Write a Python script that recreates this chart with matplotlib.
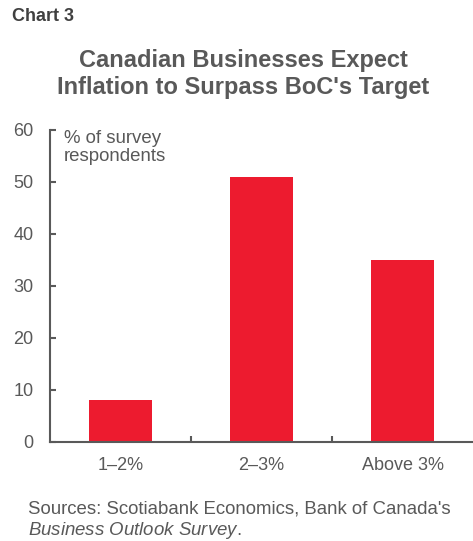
import matplotlib.pyplot as plt
from matplotlib.ticker import FixedLocator

plt.rcParams['font.family'] = ['Liberation Sans', 'DejaVu Sans']
plt.rcParams['mathtext.fontset'] = 'custom'
plt.rcParams['mathtext.rm'] = 'Liberation Sans'
plt.rcParams['mathtext.it'] = 'Liberation Sans:italic'

categories = ["1–2%", "2–3%", "Above 3%"]
values = [8, 51, 35]

gray = "#595959"
red = "#ED1B2F"

fig = plt.figure(figsize=(4.73, 5.41), dpi=100)
ax = fig.add_axes([50 / 473, 99 / 541, 423 / 473, 312 / 541])

x = list(range(len(categories)))
ax.bar(x, values, width=0.45, color=red, zorder=2)

ax.set_xlim(-0.5, 2.5)
ax.set_ylim(0, 60)
ax.set_yticks(range(0, 61, 10))
ax.set_xticks(x)
ax.set_xticklabels(categories)
ax.xaxis.set_minor_locator(FixedLocator([0.5, 1.5]))

for side in ["top", "right"]:
    ax.spines[side].set_visible(False)
for side in ["left", "bottom"]:
    ax.spines[side].set_color(gray)
    ax.spines[side].set_linewidth(1.5)

ax.tick_params(axis="y", direction="in", length=4, width=1.5, color=gray,
               labelsize=13, labelcolor=gray, pad=12)
ax.tick_params(axis="x", which="major", length=0, labelsize=13,
               labelcolor=gray, pad=11)
ax.tick_params(axis="x", which="minor", direction="in", length=4,
               width=1.5, color=gray)

ax.text(0.033, 1.0, "% of survey\nrespondents", transform=ax.transAxes,
        ha="left", va="top", fontsize=13.4, color=gray, linespacing=1.1)

fig.text(12 / 473, 1 - 8 / 541, "Chart 3", ha="left", va="top",
         fontsize=13, fontweight="bold", color="#404040")
fig.text(243 / 473, 1 - 49 / 541,
         "Canadian Businesses Expect\nInflation to Surpass BoC's Target",
         ha="center", va="top", fontsize=17, fontweight="bold", color=gray,
         linespacing=1.2)

fig.text(28 / 473, 1 - 514 / 541,
         "Sources: Scotiabank Economics, Bank of Canada's",
         ha="left", va="baseline", fontsize=13.4, color=gray)
fig.text(28 / 473, 1 - 535 / 541, r"$\it{Business\ Outlook\ Survey}$.",
         ha="left", va="baseline", fontsize=13.4, color=gray)

fig.savefig("out.png", dpi=100)
